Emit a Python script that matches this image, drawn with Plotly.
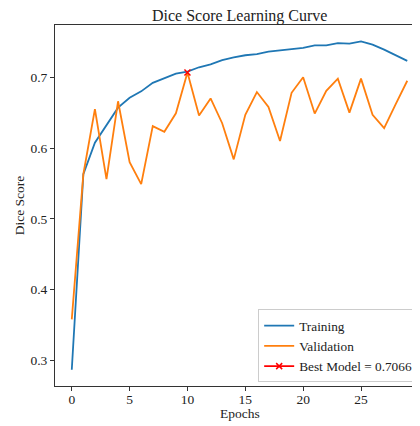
import plotly.graph_objects as go

epochs = list(range(30))
training = [0.287, 0.563, 0.6075, 0.633, 0.657, 0.671, 0.680, 0.692, 0.698, 0.705,
            0.708, 0.714, 0.718, 0.724, 0.728, 0.731, 0.7325, 0.736, 0.738, 0.740,
            0.7415, 0.745, 0.745, 0.748, 0.7475, 0.7505, 0.746, 0.739, 0.731, 0.723]
validation = [0.358, 0.563, 0.655, 0.556, 0.666, 0.580, 0.549, 0.631, 0.623, 0.649,
              0.7066, 0.646, 0.670, 0.635, 0.584, 0.647, 0.679, 0.658, 0.610, 0.678,
              0.700, 0.6486, 0.6807, 0.698, 0.650, 0.698, 0.647, 0.628, 0.662, 0.695]
best_epoch = [10]
best_value = [0.7066]
x_ticks = [0, 5, 10, 15, 20, 25, 30]
y_ticks = [0.3, 0.4, 0.5, 0.6, 0.7]

FONT = "Liberation Serif, Times New Roman, serif"
AXC = "#333333"

fig = go.Figure()
fig.add_trace(go.Scatter(x=epochs, y=training, mode="lines", name="Training",
                         line=dict(color="#1f77b4", width=1.8)))
fig.add_trace(go.Scatter(x=epochs, y=validation, mode="lines", name="Validation",
                         line=dict(color="#ff7f0e", width=1.8)))
fig.add_trace(go.Scatter(x=best_epoch, y=best_value, mode="lines+markers",
                         name=f"Best Model = {best_value[0]:.4f}",
                         line=dict(color="#ff0000", width=1.8),
                         marker=dict(symbol="x-thin", size=6, color="#ff0000",
                                     line=dict(color="#ff0000", width=1.5))))

fig.update_layout(
    width=412, height=418,
    margin=dict(l=47, r=0, t=17, b=40),
    paper_bgcolor="white", plot_bgcolor="white",
    font=dict(family=FONT, size=13.5, color="#222222"),
    title=dict(text="Dice Score Learning Curve", x=0.506, xref="paper", xanchor="center",
               y=0.983, yanchor="middle", yref="container",
               font=dict(family=FONT, size=16, color="#222222")),
    showlegend=True,
    legend=dict(x=0.995, y=0.01, xanchor="right", yanchor="bottom",
                bgcolor="rgba(255,255,255,0.8)", bordercolor="#cccccc", borderwidth=1,
                font=dict(family=FONT, size=13.3, color="#222222"),
                itemwidth=30, tracegroupgap=0),
)
fig.add_annotation(text="Epochs", xref="paper", yref="paper", x=0.506, y=0,
                   yshift=-27, xanchor="center", yanchor="middle", showarrow=False,
                   font=dict(family=FONT, size=13.5, color="#222222"))
fig.update_xaxes(range=[-1.45, 30.1], tickvals=x_ticks, ticks="outside", ticklen=4,
                 tickcolor=AXC, showline=True, linecolor=AXC, linewidth=1, mirror=True,
                 showgrid=False, zeroline=False, ticklabeloverflow="allow", automargin=False,
                 ticklabelstandoff=-3,
                 tickfont=dict(family=FONT, size=13.5))
fig.update_yaxes(range=[0.264, 0.7737], tickvals=y_ticks, tickformat=".1f", ticks="outside",
                 ticklen=4, tickcolor=AXC, showline=True, linecolor=AXC, linewidth=1,
                 mirror=False, showgrid=False, zeroline=False, automargin=False,
                 title=dict(text="Dice Score", standoff=2, font=dict(family=FONT, size=13.5)),
                 tickfont=dict(family=FONT, size=13.5))

fig.write_html("out.html")
